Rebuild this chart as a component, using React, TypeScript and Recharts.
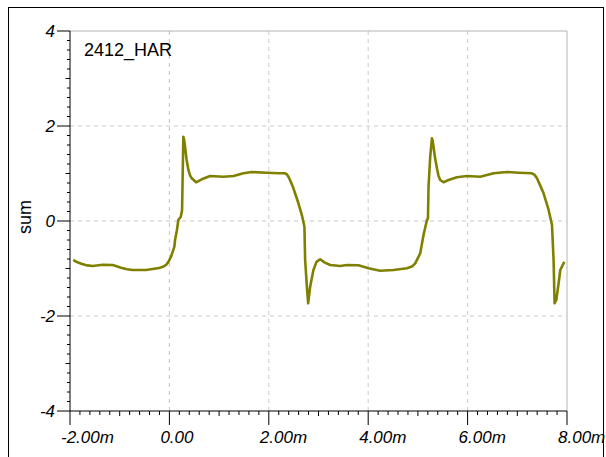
import { LineChart, Line, XAxis, YAxis, ReferenceLine } from 'recharts'

// time in ms, value of "sum"
const times = [
  -1.934, -1.85, -1.758, -1.65, -1.543, -1.342, -1.14, -0.973, -0.85, -0.738,
  -0.47, -0.208, -0.13, -0.067, -0.02, 0.033, 0.1, 0.114, 0.15, 0.18,
  0.229, 0.255, 0.269, 0.281, 0.298, 0.315, 0.345, 0.382, 0.415, 0.45,
  0.537, 0.652, 0.819, 1.086, 1.288, 1.489, 1.658, 1.96, 2.194, 2.329,
  2.365, 2.395, 2.44, 2.496, 2.596, 2.665, 2.717, 2.731, 2.766, 2.792,
  2.832, 2.898, 2.96, 3.033, 3.12, 3.235, 3.436, 3.571, 3.804, 4.006,
  4.241, 4.509, 4.779, 4.88, 4.946, 5.047, 5.113, 5.182, 5.202, 5.214,
  5.248, 5.282, 5.298, 5.314, 5.345, 5.383, 5.415, 5.449, 5.516, 5.617,
  5.786, 5.987, 6.255, 6.523, 6.792, 7.026, 7.295, 7.35, 7.396, 7.46,
  7.529, 7.63, 7.698, 7.73, 7.75, 7.785, 7.831, 7.865, 7.946,
]
const sums = [
  -0.821, -0.87, -0.905, -0.935, -0.947, -0.92, -0.926, -0.983, -1.015, -1.032,
  -1.032, -0.989, -0.965, -0.926, -0.86, -0.752, -0.541, -0.4, -0.2, 0.021,
  0.091, 0.232, 1.074, 1.775, 1.7, 1.564, 1.3, 1.074, 0.96, 0.899,
  0.815, 0.878, 0.947, 0.933, 0.947, 1.004, 1.032, 1.017, 1.004, 1.004,
  0.98, 0.933, 0.83, 0.688, 0.373, 0.126, -0.12, -0.821, -1.383, -1.733,
  -1.383, -1.032, -0.86, -0.806, -0.87, -0.926, -0.947, -0.926, -0.933, -0.996,
  -1.046, -1.032, -0.996, -0.96, -0.891, -0.68, -0.295, 0.021, 0.057, 0.722,
  1.354, 1.741, 1.69, 1.564, 1.33, 1.109, 0.95, 0.863, 0.815, 0.863,
  0.92, 0.947, 0.933, 1.004, 1.032, 1.017, 1.004, 0.97, 0.899, 0.75,
  0.583, 0.232, -0.084, -0.821, -1.733, -1.663, -1.312, -1.032, -0.857,
]

const xMajor = [-2, 0, 2, 4, 6, 8]
const xLabels = ['-2.00m', '0.00', '2.00m', '4.00m', '6.00m', '8.00m']
const yMajor = [-4, -2, 0, 2, 4]
const yLabels = ['-4', '-2', '0', '2', '4']

const data = times.map((t, i) => ({ t, sum: sums[i] }))

// minor ticks every 0.2
const xTicks: number[] = []
for (let i = -10; i <= 40; i++) xTicks.push(Math.round(i * 2) / 10)
const yTicks: number[] = []
for (let i = -20; i <= 20; i++) yTicks.push(Math.round(i * 2) / 10)

const FONT = '"Liberation Sans", Arial, sans-serif'
const isInt = (v: number) => Math.abs(v - Math.round(v)) < 1e-6

function XTick(props: any) {
  const { x, y, payload } = props
  const v = payload.value
  const idx = xMajor.findIndex((m) => Math.abs(m - v) < 1e-6)
  const len = idx >= 0 ? 14 : isInt(v) ? 5 : 4
  return (
    <g>
      <line x1={x} y1={y} x2={x} y2={y + len} stroke="#000" />
      {idx >= 0 && (
        <text x={x - 9} y={y + 32} fontSize={17} fontStyle="italic" fontFamily={FONT} fill="#000" textAnchor="start">
          {xLabels[idx]}
        </text>
      )}
    </g>
  )
}

function YTick(props: any) {
  const { x, y, payload } = props
  const v = payload.value
  const idx = yMajor.findIndex((m) => Math.abs(m - v) < 1e-6)
  const len = idx >= 0 ? 13 : isInt(v) ? 4.5 : 3
  return (
    <g>
      <line x1={x - len} y1={y} x2={x} y2={y} stroke="#000" />
      {idx >= 0 && (
        <text x={x - 15} y={y + 6} fontSize={17} fontStyle="italic" fontFamily={FONT} fill="#000" textAnchor="end">
          {yLabels[idx]}
        </text>
      )}
    </g>
  )
}

export default function App() {
  return (
    <div style={{ position: 'fixed', left: 0, top: 0, width: 606, height: 457, overflow: 'hidden', background: '#fff' }}>
      <div style={{ position: 'absolute', left: 8, top: 7, width: 596, height: 520, border: '1px solid #000', boxSizing: 'border-box' }} />
      <div style={{ position: 'absolute', left: 0, top: 0 }}>
        <LineChart width={606} height={457} data={data} margin={{ top: 31, right: 39, bottom: 0, left: 0 }}>
          <XAxis
            dataKey="t"
            type="number"
            domain={[-2, 8]}
            ticks={xTicks}
            interval={0}
            height={46}
            tickSize={0}
            tickMargin={0}
            tickLine={false}
            axisLine={{ stroke: '#000' }}
            tick={<XTick />}
          />
          <YAxis
            type="number"
            domain={[-4, 4]}
            ticks={yTicks}
            interval={0}
            width={70}
            tickSize={0}
            tickMargin={0}
            tickLine={false}
            axisLine={{ stroke: '#000' }}
            tick={<YTick />}
          />
          {xMajor.slice(1, -1).map((v) => (
            <ReferenceLine key={'gx' + v} x={v} stroke="#c8c8c8" strokeDasharray="4 4" ifOverflow="visible" />
          ))}
          {yMajor.slice(1, -1).map((v) => (
            <ReferenceLine key={'gy' + v} y={v} stroke="#c8c8c8" strokeDasharray="4 4" ifOverflow="visible" />
          ))}
          <ReferenceLine y={4} stroke="#b4b4b4" />
          <ReferenceLine x={8} stroke="#b4b4b4" />
          <Line
            type="linear"
            dataKey="sum"
            stroke="#808000"
            strokeWidth={2.6}
            strokeLinejoin="round"
            dot={false}
            isAnimationActive={false}
          />
        </LineChart>
      </div>
      <svg width={606} height={457} style={{ position: 'absolute', left: 0, top: 0, pointerEvents: 'none' }}>
        <text x={84} y={56} fontSize={18} fontFamily={FONT} fill="#000">
          2412_HAR
        </text>
        <text x={31} y={217} fontSize={18} fontFamily={FONT} fill="#000" textAnchor="middle" transform="rotate(-90 31 217)">
          sum
        </text>
      </svg>
    </div>
  )
}
